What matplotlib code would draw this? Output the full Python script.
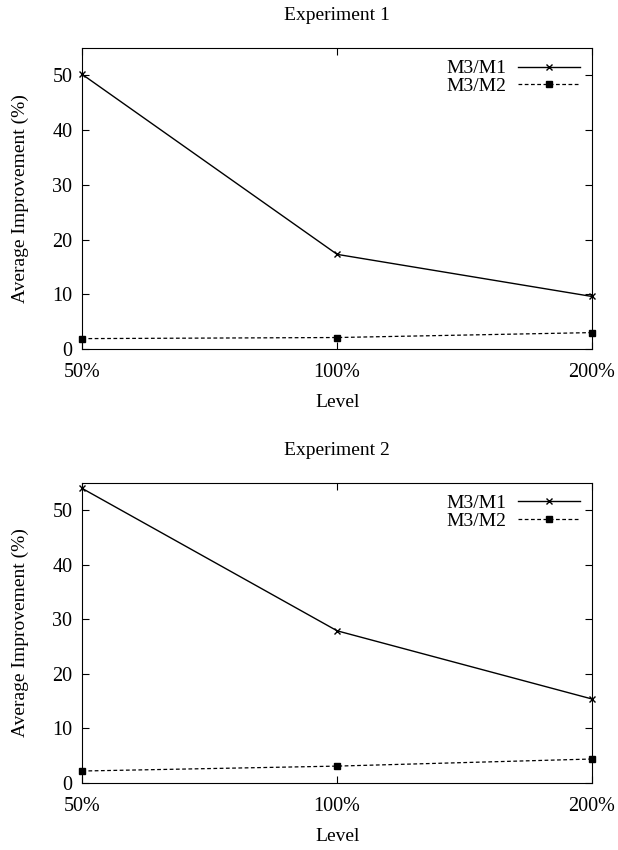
import matplotlib
matplotlib.use("Agg")
import matplotlib.pyplot as plt
from matplotlib.ticker import FixedLocator, NullLocator

plt.rcParams['font.family'] = ['Liberation Serif', 'DejaVu Serif']

levels = [50, 100, 200]
level_labels = ["50%", "100%", "200%"]
titles = ["Experiment 1", "Experiment 2"]
exp1_m3m1 = [50.2, 17.3, 9.6]
exp1_m3m2 = [1.9, 2.1, 3.0]
exp2_m3m1 = [54.0, 27.9, 15.4]
exp2_m3m2 = [2.2, 3.1, 4.4]
series = [(exp1_m3m1, exp1_m3m2), (exp2_m3m1, exp2_m3m2)]
yticks = [0, 10, 20, 30, 40, 50]

fig = plt.figure(figsize=(6.18, 8.5), dpi=100)
rects = [[0.133, 0.5894, 0.825, 0.354], [0.133, 0.0788, 0.825, 0.353]]

for rect, title, (m1, m2) in zip(rects, titles, series):
    ax = fig.add_axes(rect)
    ax.plot(levels, m1, color='black', lw=1.0, marker='x', ms=5, mew=1.0,
            label='M3/M1', clip_on=False)
    ax.plot(levels, m2, color='black', lw=0.9, ls=(0, (3, 2)), marker='s',
            ms=4, label='M3/M2', clip_on=False)
    ax.set_xscale('log', base=2)
    ax.set_xlim(50, 200)
    ax.set_ylim(0, 55)
    ax.xaxis.set_major_locator(FixedLocator(levels))
    ax.xaxis.set_minor_locator(NullLocator())
    ax.set_xticklabels(level_labels)
    ax.set_yticks(yticks)
    ax.tick_params(direction='in', length=5, width=0.8, labelsize=14.5,
                   top=True, right=True)
    ax.tick_params(axis='x', pad=10)
    ax.tick_params(axis='y', pad=7)
    for s in ax.spines.values():
        s.set_linewidth(0.8)
    ax.set_xlabel('Level', fontsize=14, labelpad=9)
    ax.set_ylabel('Average Improvement (%)', fontsize=14)
    ax.yaxis.set_label_coords(-0.105, 0.5)
    ax.set_title(title, fontsize=14, pad=20)
    ax.legend(loc='upper right', frameon=False, markerfirst=False,
              fontsize=14, handlelength=3.2, borderaxespad=0.2,
              labelspacing=0.0, handletextpad=0.6,
              bbox_to_anchor=(1.0, 1.0))

fig.savefig('out.png', dpi=100)
